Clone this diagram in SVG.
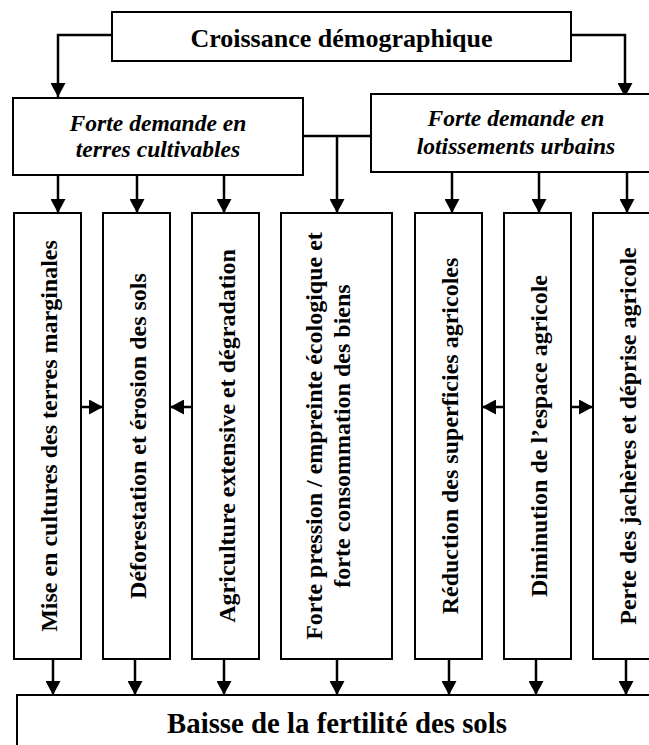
<svg xmlns="http://www.w3.org/2000/svg" width="649" height="745" viewBox="0 0 649 745">
<style>
.box{fill:#fff;stroke:#000;stroke-width:2}
.t{font-family:"Liberation Serif","Times New Roman",serif;font-weight:bold;fill:#000}
.big{font-size:26px}
.it{font-size:23.6px;font-style:italic}
.col{font-size:24px}
.bot{font-size:28.8px}
.c{fill:none;stroke:#000;stroke-width:2.5}
</style>
<defs>
<marker id="ah" markerUnits="userSpaceOnUse" markerWidth="15" markerHeight="15" refX="14" refY="7.5" orient="auto" viewBox="0 0 15 15">
<path d="M0,0 L14,7.5 L0,15 z" fill="#000"/>
</marker>
</defs>
<rect width="649" height="745" fill="#fff"/>
<g id="connectors">
<polyline class="c" points="112,35 58,35 58,97" marker-end="url(#ah)"/>
<polyline class="c" points="571,35 625,35 625,97" marker-end="url(#ah)"/>
<line class="c" x1="303" y1="136" x2="371" y2="136"/>
<line class="c" x1="337" y1="136" x2="337" y2="213" marker-end="url(#ah)"/>
<line class="c" x1="58" y1="175" x2="58" y2="213" marker-end="url(#ah)"/>
<line class="c" x1="137" y1="175" x2="137" y2="213" marker-end="url(#ah)"/>
<line class="c" x1="224" y1="175" x2="224" y2="213" marker-end="url(#ah)"/>
<line class="c" x1="452" y1="172" x2="452" y2="213" marker-end="url(#ah)"/>
<line class="c" x1="539" y1="172" x2="539" y2="213" marker-end="url(#ah)"/>
<line class="c" x1="627" y1="172" x2="627" y2="213" marker-end="url(#ah)"/>
<line class="c" x1="81" y1="407" x2="103" y2="407" marker-end="url(#ah)"/>
<line class="c" x1="192" y1="407" x2="170" y2="407" marker-end="url(#ah)"/>
<line class="c" x1="504" y1="407" x2="482" y2="407" marker-end="url(#ah)"/>
<line class="c" x1="571" y1="407" x2="593" y2="407" marker-end="url(#ah)"/>
<line class="c" x1="53" y1="659" x2="53" y2="695" marker-end="url(#ah)"/>
<line class="c" x1="135" y1="659" x2="135" y2="695" marker-end="url(#ah)"/>
<line class="c" x1="224" y1="659" x2="224" y2="695" marker-end="url(#ah)"/>
<line class="c" x1="337" y1="659" x2="337" y2="695" marker-end="url(#ah)"/>
<line class="c" x1="449" y1="659" x2="449" y2="695" marker-end="url(#ah)"/>
<line class="c" x1="536" y1="659" x2="536" y2="695" marker-end="url(#ah)"/>
<line class="c" x1="626" y1="659" x2="626" y2="695" marker-end="url(#ah)"/>
</g>
<g id="croissance">
<rect class="box" x="112" y="12" width="459" height="49"/>
<text class="t big" x="341.5" y="46.5" text-anchor="middle">Croissance démographique</text>
</g>
<g id="demande-terres">
<rect class="box" x="13" y="98" width="290" height="77"/>
<text class="t it" x="158" y="130.5" text-anchor="middle">Forte demande en</text>
<text class="t it" x="158" y="157" text-anchor="middle">terres cultivables</text>
</g>
<g id="demande-lotissements">
<rect class="box" x="371" y="94" width="290" height="78"/>
<text class="t it" x="516" y="126" text-anchor="middle">Forte demande en</text>
<text class="t it" x="516" y="154" text-anchor="middle">lotissements urbains</text>
</g>
<g id="col1">
<rect class="box" x="14" y="213" width="67" height="446"/>
<text class="t col" transform="translate(47.5,436) rotate(-90)" x="0" y="9" text-anchor="middle">Mise en cultures des terres marginales</text>
</g>
<g id="col2">
<rect class="box" x="103" y="213" width="67" height="446"/>
<text class="t col" transform="translate(136.5,436) rotate(-90)" x="0" y="9" text-anchor="middle">Déforestation et érosion des sols</text>
</g>
<g id="col3">
<rect class="box" x="192" y="213" width="67" height="446"/>
<text class="t col" transform="translate(225.5,436) rotate(-90)" x="0" y="9" text-anchor="middle">Agriculture extensive et dégradation</text>
</g>
<g id="col4">
<rect class="box" x="281" y="213" width="111" height="446"/>
<text class="t col" transform="translate(336.5,436) rotate(-90)" x="0" y="-14.5" text-anchor="middle">Forte pression / empreinte écologique et</text>
<text class="t col" transform="translate(336.5,436) rotate(-90)" x="0" y="13.5" text-anchor="middle">forte consommation des biens</text>
</g>
<g id="col5">
<rect class="box" x="415" y="213" width="67" height="446"/>
<text class="t col" transform="translate(448.5,436) rotate(-90)" x="0" y="9" text-anchor="middle">Réduction des superficies agricoles</text>
</g>
<g id="col6">
<rect class="box" x="504" y="213" width="67" height="446"/>
<text class="t col" transform="translate(537.5,436) rotate(-90)" x="0" y="9" text-anchor="middle">Diminution de l’espace agricole</text>
</g>
<g id="col7">
<rect class="box" x="593" y="213" width="67" height="446"/>
<text class="t col" transform="translate(626.5,436) rotate(-90)" x="0" y="9" text-anchor="middle">Perte des jachères et déprise agricole</text>
</g>
<g id="baisse">
<rect class="box" x="17" y="695" width="645" height="70"/>
<text class="t bot" x="337" y="733" text-anchor="middle">Baisse de la fertilité des sols</text>
</g>
</svg>
